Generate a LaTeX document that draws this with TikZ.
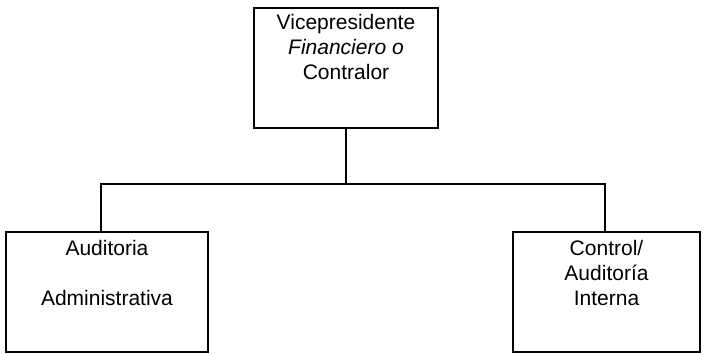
\documentclass[tikz,border=0pt]{standalone}
\usepackage{fontspec}
\setmainfont{Liberation Sans}
\usetikzlibrary{positioning}
\tikzset{
  box/.style={draw, line width=1.2pt, minimum width=#1, minimum height=120pt, inner sep=0pt},
  boxtext/.style={anchor=north, align=center, inner sep=0pt,
    font=\fontsize{21}{25}\selectfont},
  link/.style={line width=1.2pt},
}
\begin{document}
\begin{tikzpicture}[x=1pt,y=-1pt]
    \useasboundingbox (0,0) rectangle (704,355);

    % Boxes
    \node[box=184pt] (vp) at (346,68) {};
    \node[box=202pt] (adm) at (107,292) {};
    \node[box=187pt] (int) at (606.5,292) {};

    % Texts
    \node[boxtext] (vptext) at (346,14) {Vicepresidente\\ \textit{Financiero o}\\ Contralor};
    \node[boxtext] (admtext) at (107,240) {Auditoria\\[25pt] Administrativa};
    \node[boxtext] (inttext) at (606.5,240) {Control/\\ Auditoría\\ Interna};

    % Connectors
    \coordinate (split) at (346,184);
    \coordinate (admtap) at (101,232);
    \coordinate (inttap) at (605,232);
    \draw[link] (vp.south) -- (split);
    \draw[link] (split) -| (admtap);
    \draw[link] (split) -| (inttap);
\end{tikzpicture}
\end{document}
